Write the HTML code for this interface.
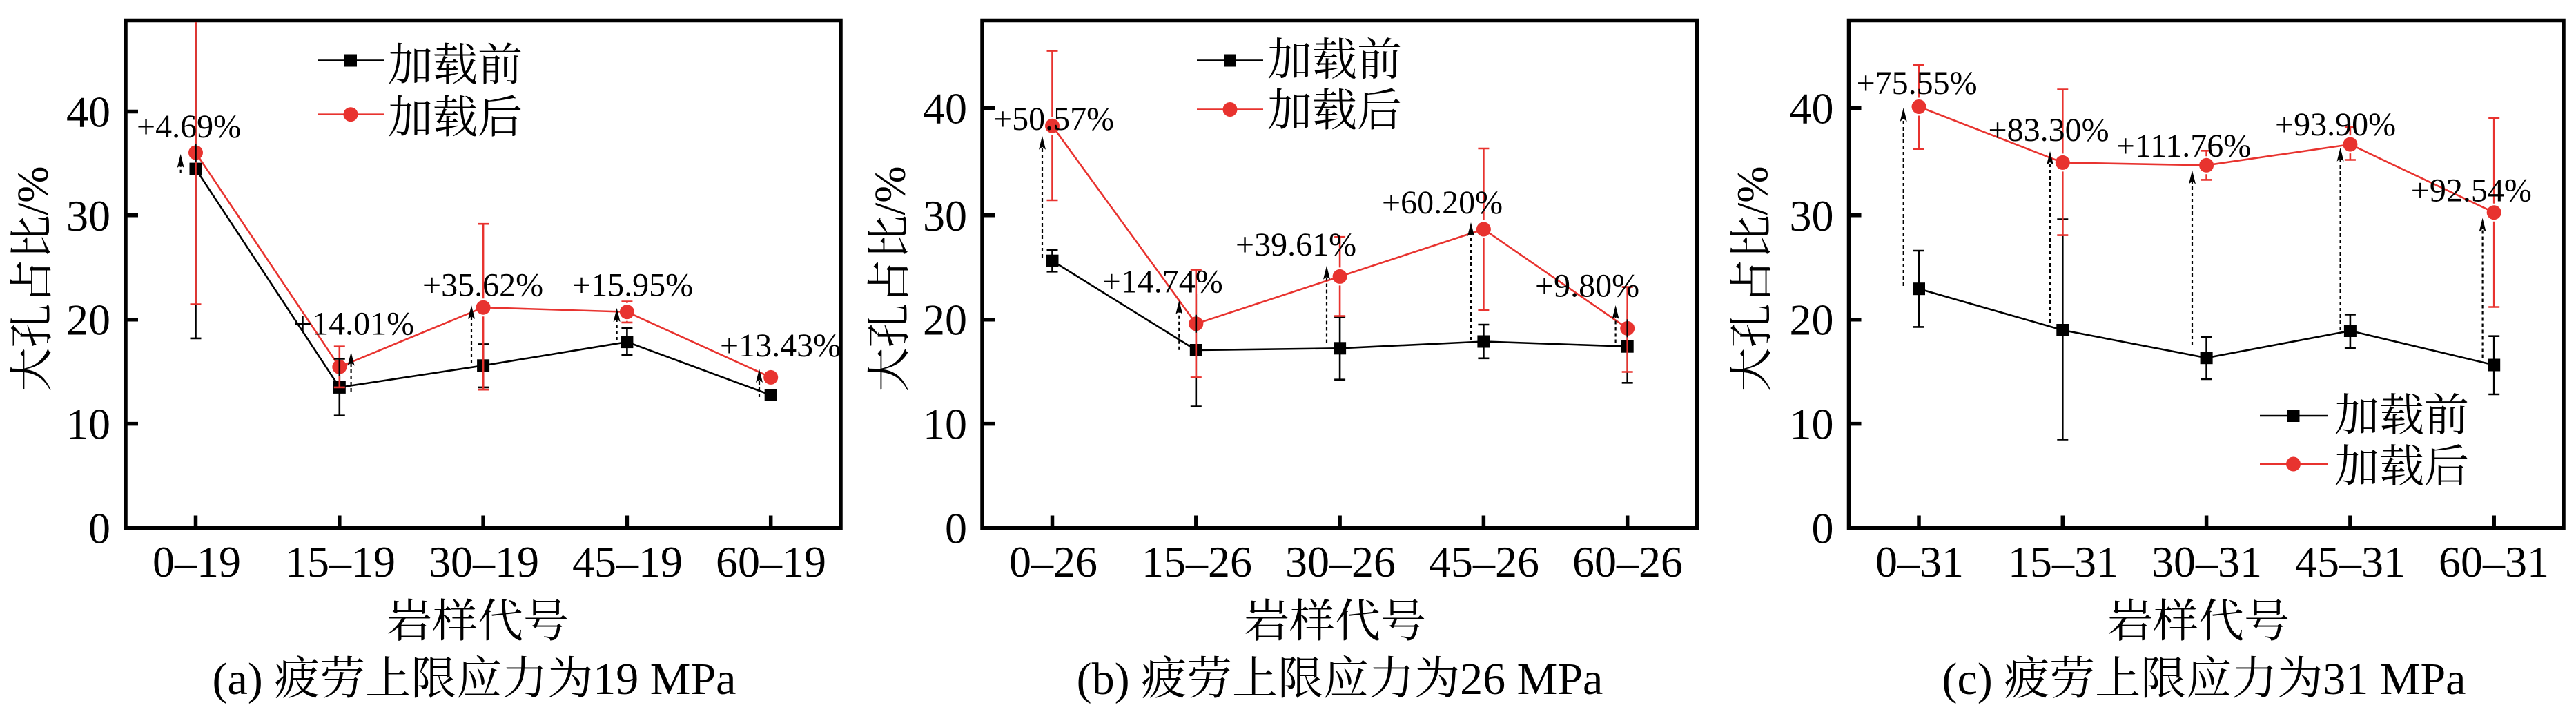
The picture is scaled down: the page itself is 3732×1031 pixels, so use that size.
<!DOCTYPE html>
<html><head><meta charset="utf-8"><style>
html,body{margin:0;padding:0;background:#fff;}
svg{display:block;}
text{font-family:"Liberation Serif","DejaVu Serif","Noto Serif CJK SC",serif;}
</style></head><body>
<svg width="3732" height="1031" viewBox="0 0 3732 1031" xmlns="http://www.w3.org/2000/svg">
<rect width="3732" height="1031" fill="#fff"/>

<!-- ===== Frames & ticks ===== -->
<g fill="none" stroke="#000" stroke-width="5.5">
<rect x="182" y="29.5" width="1036" height="735"/>
<rect x="1423" y="29.5" width="1035.5" height="735"/>
<rect x="2678.5" y="29.5" width="1035.5" height="735"/>
<path d="M182 613.6h18M182 462.7h18M182 311.8h18M182 161.5h18
M283.5 764.5v-18M491.8 764.5v-18M700.1 764.5v-18M908.4 764.5v-18M1116.7 764.5v-18"/>
<path d="M1423 613.6h18M1423 462.7h18M1423 311.8h18M1423 156.5h18
M1524.5 764.5v-18M1732.8 764.5v-18M1941.1 764.5v-18M2149.4 764.5v-18M2357.7 764.5v-18"/>
<path d="M2678.5 613.6h18M2678.5 462.7h18M2678.5 311.8h18M2678.5 156.5h18
M2780 764.5v-18M2988.3 764.5v-18M3196.6 764.5v-18M3404.9 764.5v-18M3613.2 764.5v-18"/>
</g>

<!-- ===== Tick labels ===== -->
<g font-family="'Liberation Serif','DejaVu Serif',serif" font-size="64" fill="#000" text-anchor="end">
<text x="160" y="786.5">0</text><text x="160" y="635.6">10</text><text x="160" y="484.7">20</text><text x="160" y="333.8">30</text><text x="160" y="183.5">40</text>
<text x="1401" y="786.5">0</text><text x="1401" y="635.6">10</text><text x="1401" y="484.7">20</text><text x="1401" y="333.8">30</text><text x="1401" y="178.5">40</text>
<text x="2656.5" y="786.5">0</text><text x="2656.5" y="635.6">10</text><text x="2656.5" y="484.7">20</text><text x="2656.5" y="333.8">30</text><text x="2656.5" y="178.5">40</text>
</g>
<g font-family="'Liberation Serif','DejaVu Serif',serif" font-size="64" fill="#000" text-anchor="middle">
<text x="285" y="835">0–19</text><text x="493" y="835">15–19</text><text x="701" y="835">30–19</text><text x="909" y="835">45–19</text><text x="1117" y="835">60–19</text>
<text x="1526" y="835">0–26</text><text x="1734" y="835">15–26</text><text x="1942" y="835">30–26</text><text x="2150" y="835">45–26</text><text x="2358" y="835">60–26</text>
<text x="2781" y="835">0–31</text><text x="2989" y="835">15–31</text><text x="3197" y="835">30–31</text><text x="3405" y="835">45–31</text><text x="3613" y="835">60–31</text>
</g>

<!-- ===== Axis labels ===== -->
<g font-family="'Liberation Serif','Noto Serif CJK SC',serif" font-size="66" fill="#000" text-anchor="middle">
<text x="692" y="922">岩样代号</text>
<text x="1934" y="922">岩样代号</text>
<text x="3185" y="922">岩样代号</text>
<text x="687" y="1005">(a) 疲劳上限应力为19 MPa</text>
<text x="1941" y="1005">(b) 疲劳上限应力为26 MPa</text>
<text x="3193" y="1005">(c) 疲劳上限应力为31 MPa</text>
</g>
<g font-family="'Liberation Serif','Noto Serif CJK SC',serif" font-size="64" fill="#000" text-anchor="middle">
<text transform="translate(68.7,404) rotate(-90)">大孔占比/%</text>
<text transform="translate(1310.7,404) rotate(-90)">大孔占比/%</text>
<text transform="translate(2560,404) rotate(-90)">大孔占比/%</text>
</g>

<!-- ===== Series lines ===== -->
<g fill="none" stroke-width="2.6" stroke-linejoin="round">
<polyline stroke="#000" points="283.5,244.6 491.8,560.9 700.1,529.3 908.4,495.1 1116.7,572"/>
<polyline stroke="#e8332f" points="283.5,221 491.8,531.3 700.1,445.2 908.4,451.7 1116.7,546.4"/>
<polyline stroke="#000" points="1524.5,377.7 1732.8,507 1941.1,504.3 2149.4,494.5 2357.7,501.7"/>
<polyline stroke="#e8332f" points="1524.5,182.3 1732.8,468.8 1941.1,400.4 2149.4,332 2357.7,475.4"/>
<polyline stroke="#000" points="2780,418.2 2988.3,478 3196.6,518.2 3404.9,479 3613.2,528.5"/>
<polyline stroke="#e8332f" points="2780,154.5 2988.3,235.4 3196.6,239.3 3404.9,209.1 3613.2,307.7"/>
</g>

<!-- ===== Markers ===== -->
<g fill="#000">
<rect x="274.5" y="235.6" width="18" height="18"/><rect x="482.8" y="551.9" width="18" height="18"/><rect x="691.1" y="520.3" width="18" height="18"/><rect x="899.4" y="486.1" width="18" height="18"/><rect x="1107.7" y="563" width="18" height="18"/>
<rect x="1515.5" y="368.7" width="18" height="18"/><rect x="1723.8" y="498" width="18" height="18"/><rect x="1932.1" y="495.3" width="18" height="18"/><rect x="2140.4" y="485.5" width="18" height="18"/><rect x="2348.7" y="492.7" width="18" height="18"/>
<rect x="2771" y="409.2" width="18" height="18"/><rect x="2979.3" y="469" width="18" height="18"/><rect x="3187.6" y="509.2" width="18" height="18"/><rect x="3395.9" y="470" width="18" height="18"/><rect x="3604.2" y="519.5" width="18" height="18"/>
</g>
<g fill="#e8332f">
<circle cx="283.5" cy="221" r="10.5"/><circle cx="491.8" cy="531.3" r="10.5"/><circle cx="700.1" cy="445.2" r="10.5"/><circle cx="908.4" cy="451.7" r="10.5"/><circle cx="1116.7" cy="546.4" r="10.5"/>
<circle cx="1524.5" cy="182.3" r="10.5"/><circle cx="1732.8" cy="468.8" r="10.5"/><circle cx="1941.1" cy="400.4" r="10.5"/><circle cx="2149.4" cy="332" r="10.5"/><circle cx="2357.7" cy="475.4" r="10.5"/>
<circle cx="2780" cy="154.5" r="10.5"/><circle cx="2988.3" cy="235.4" r="10.5"/><circle cx="3196.6" cy="239.3" r="10.5"/><circle cx="3404.9" cy="209.1" r="10.5"/><circle cx="3613.2" cy="307.7" r="10.5"/>
</g>

<!-- ===== Error bars ===== -->
<g fill="none" stroke="#000" stroke-width="2.6">
<path d="M283.5 32V489.9M275.5 489.9h16
M491.8 519.5V601.7M483.8 519.5h16M483.8 601.7h16
M700.1 498.4V560.9M692.1 498.4h16M692.1 560.9h16
M908.4 474.8V514.2M900.4 474.8h16M900.4 514.2h16"/>
<path d="M1524.5 361.7V393.3M1516.5 361.7h16M1516.5 393.3h16
M1732.8 425.5V588.5M1724.8 588.5h16
M1941.1 458.9V549.7M1933.1 458.9h16M1933.1 549.7h16
M2149.4 470V518.8M2141.4 470h16M2141.4 518.8h16
M2357.7 449V554.3M2349.7 554.3h16"/>
<path d="M2780 363V473.4M2772 363h16M2772 473.4h16
M2988.3 317.6V636.5M2980.3 317.6h16M2980.3 636.5h16
M3196.6 487.9V549M3188.6 487.9h16M3188.6 549h16
M3404.9 455.5V504M3396.9 455.5h16M3396.9 504h16
M3613.2 486.7V571M3605.2 486.7h16M3605.2 571h16"/>
</g>
<g fill="none" stroke="#e8332f" stroke-width="2.6">
<path d="M283.5 32V208M283.5 234V440.6M275.5 440.6h16
M491.8 501.7V518.3M491.8 544.3V560.9M483.8 501.7h16M483.8 560.9h16
M700.1 324.2V432.2M700.1 458.2V564.2M692.1 324.2h16M692.1 564.2h16
M908.4 436.6V438.7M908.4 464.7V466.9M900.4 436.6h16M900.4 466.9h16"/>
<path d="M1524.5 73.6V169.3M1524.5 195.3V290M1516.5 73.6h16M1516.5 290h16
M1732.8 390.6V455.8M1732.8 481.8V546.4M1724.8 390.6h16M1724.8 546.4h16
M1941.1 343.2V387.4M1941.1 413.4V457.6M1933.1 343.2h16M1933.1 457.6h16
M2149.4 215V319M2149.4 345V449M2141.4 215h16M2141.4 449h16
M2357.7 415.6V462.4M2357.7 488.4V538.5M2349.7 415.6h16M2349.7 538.5h16"/>
<path d="M2780 94V141.5M2780 167.5V215.7M2772 94h16M2772 215.7h16
M2988.3 129.5V222.4M2988.3 248.4V340.6M2980.3 129.5h16M2980.3 340.6h16
M3196.6 218.3V226.3M3196.6 252.3V260.4M3188.6 218.3h16M3188.6 260.4h16
M3404.9 184V196.1M3404.9 222.1V231.5M3396.9 184h16M3396.9 231.5h16
M3613.2 171V294.7M3613.2 320.7V444.5M3605.2 171h16M3605.2 444.5h16"/>
</g>

<!-- ===== Dashed arrows ===== -->
<g fill="none" stroke="#000" stroke-width="2.2" stroke-dasharray="5,4">
<path d="M261.7 250.7V239M508.6 567V525.6M683 526V458M893.6 493V462M1100 575V550"/>
<path d="M1510 373V212.7M1708.3 506.7V451M1922 496.5V400.7M2131 493V338M2340.6 496.5V458"/>
<path d="M2757.7 414V172M2970 467V235M3176 500V262.6M3390.6 478V229.7M3596.6 518.5V331.6"/>
</g>
<g fill="#000">
<path d="M261.7 223l-5 20 5-4 5 4z"/>
<path d="M508.6 509.6l-5 20 5-4 5 4z"/>
<path d="M683 442l-5 20 5-4 5 4z"/>
<path d="M893.6 446l-5 20 5-4 5 4z"/>
<path d="M1100 534l-5 20 5-4 5 4z"/>
<path d="M1510 196.7l-5 20 5-4 5 4z"/>
<path d="M1708.3 435l-5 20 5-4 5 4z"/>
<path d="M1922 384.7l-5 20 5-4 5 4z"/>
<path d="M2131 322l-5 20 5-4 5 4z"/>
<path d="M2340.6 442l-5 20 5-4 5 4z"/>
<path d="M2757.7 156l-5 20 5-4 5 4z"/>
<path d="M2970 219l-5 20 5-4 5 4z"/>
<path d="M3176 246.6l-5 20 5-4 5 4z"/>
<path d="M3390.6 213.7l-5 20 5-4 5 4z"/>
<path d="M3596.6 315.6l-5 20 5-4 5 4z"/>
</g>

<!-- ===== Annotations ===== -->
<g font-family="'Liberation Serif','DejaVu Serif',serif" font-size="48" fill="#000">
<text x="198" y="199">+4.69%</text>
<text x="425" y="484.6">+14.01%</text>
<text x="612" y="428.7">+35.62%</text>
<text x="829" y="428.7">+15.95%</text>
<text x="1043" y="516">+13.43%</text>
<text x="1439" y="188">+50.57%</text>
<text x="1596.7" y="423.3">+14.74%</text>
<text x="1790" y="370.2">+39.61%</text>
<text x="2002" y="309">+60.20%</text>
<text x="2224" y="429.4">+9.80%</text>
<text x="2689.6" y="136">+75.55%</text>
<text x="2880.5" y="203.8">+83.30%</text>
<text x="3065.8" y="226.8">+111.76%</text>
<text x="3296" y="196">+93.90%</text>
<text x="3492.8" y="291.3">+92.54%</text>
</g>

<!-- ===== Legends ===== -->
<g stroke-width="2.6" fill="none">
<path stroke="#000" d="M460 87.5H556M1734 87.5H1830M3274 602H3372"/>
<path stroke="#e8332f" d="M460 165.7H556M1734 158.5H1830M3274 672H3372"/>
</g>
<g fill="#000">
<rect x="499" y="78.5" width="18" height="18"/>
<rect x="1773" y="78.5" width="18" height="18"/>
<rect x="3313.5" y="593" width="18" height="18"/>
</g>
<g fill="#e8332f">
<circle cx="508" cy="165.7" r="10.5"/>
<circle cx="1782" cy="158.5" r="10.5"/>
<circle cx="3322.5" cy="672" r="10.5"/>
</g>
<g font-family="'Liberation Serif','Noto Serif CJK SC',serif" font-size="65" fill="#000">
<text x="562" y="116">加载前</text>
<text x="562" y="192">加载后</text>
<text x="1836" y="108.5">加载前</text>
<text x="1836" y="182">加载后</text>
<text x="3382" y="623.7">加载前</text>
<text x="3382" y="697.5">加载后</text>
</g>
</svg>
</body></html>
